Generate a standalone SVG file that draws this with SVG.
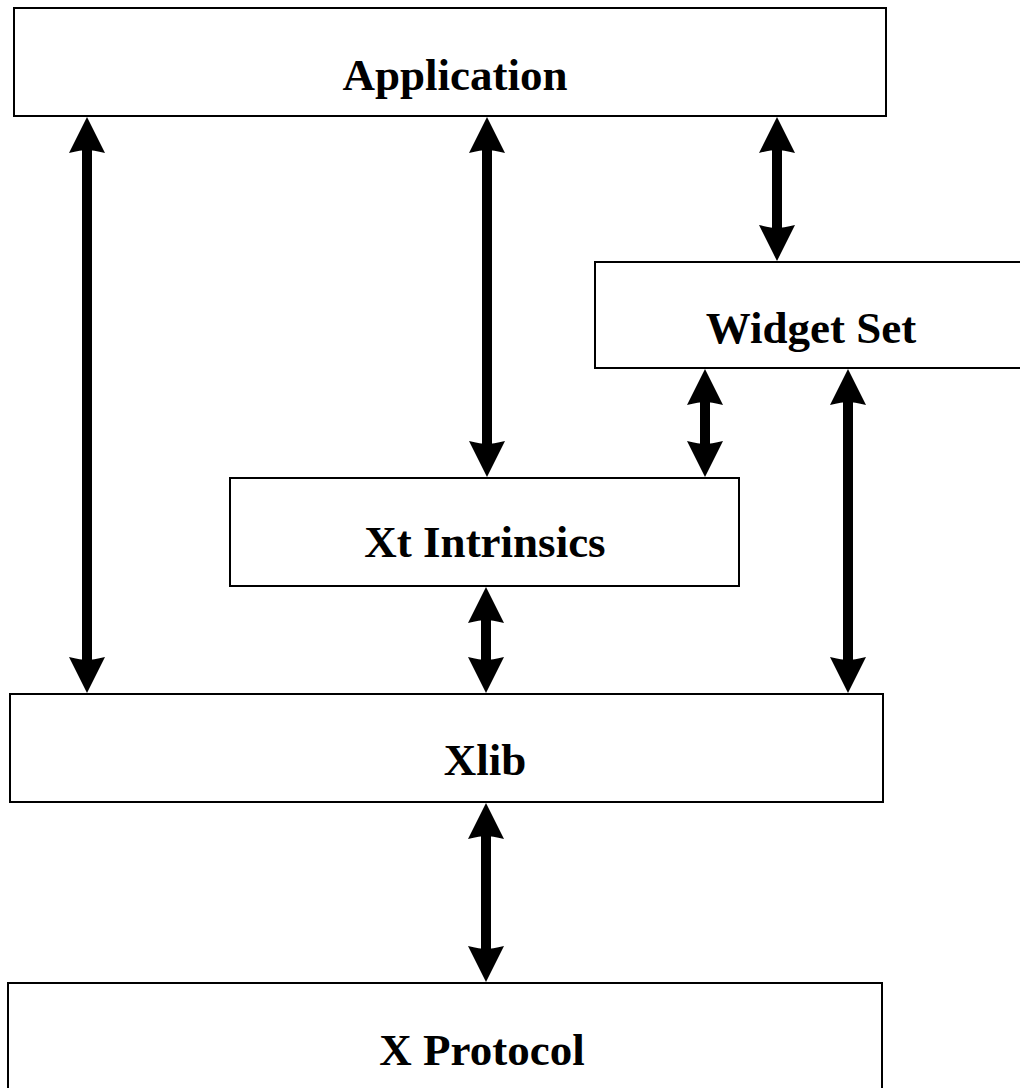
<svg xmlns="http://www.w3.org/2000/svg" width="1020" height="1088" viewBox="0 0 1020 1088">
  <style>
    .box { fill: #fff; stroke: #000; stroke-width: 2; }
    .label { font-family: "Liberation Serif", "Times New Roman", serif; font-weight: bold; font-size: 45px; fill: #000; text-anchor: middle; }
    .link { stroke: #000; stroke-width: 10; fill: none; marker-start: url(#head); marker-end: url(#head); }
  </style>
  <defs>
    <!-- arrowhead: tip sits 30px beyond the line end, notch overlaps the shaft -->
    <marker id="head" markerUnits="userSpaceOnUse" orient="auto-start-reverse" refX="0" refY="0" markerWidth="1" markerHeight="1" overflow="visible">
      <path d="M30,0 L-6,-18 Q-3,-6 -3,0 Q-3,6 -6,18 Z" fill="#000"/>
    </marker>
  </defs>
  <rect width="1020" height="1088" fill="#fff"/>

  <g id="connectors">
    <line class="link" x1="87" y1="147" x2="87" y2="663"/>
    <line class="link" x1="487" y1="147" x2="487" y2="447"/>
    <line class="link" x1="777" y1="147" x2="777" y2="231"/>
    <line class="link" x1="705" y1="399" x2="705" y2="447"/>
    <line class="link" x1="848" y1="399" x2="848" y2="663"/>
    <line class="link" x1="486" y1="617" x2="486" y2="663"/>
    <line class="link" x1="486" y1="833" x2="486" y2="952"/>
  </g>

  <g id="application">
    <rect class="box" x="14" y="8" width="872" height="108"/>
    <text class="label" x="455" y="90">Application</text>
  </g>
  <g id="widget-set">
    <rect class="box" x="595" y="262" width="435" height="106"/>
    <text class="label" x="811" y="343">Widget Set</text>
  </g>
  <g id="xt-intrinsics">
    <rect class="box" x="230" y="478" width="509" height="108"/>
    <text class="label" x="485" y="557">Xt Intrinsics</text>
  </g>
  <g id="xlib">
    <rect class="box" x="10" y="694" width="873" height="108"/>
    <text class="label" x="485" y="775">Xlib</text>
  </g>
  <g id="x-protocol">
    <rect class="box" x="8" y="983" width="874" height="130"/>
    <text class="label" x="482" y="1065">X Protocol</text>
  </g>
</svg>
